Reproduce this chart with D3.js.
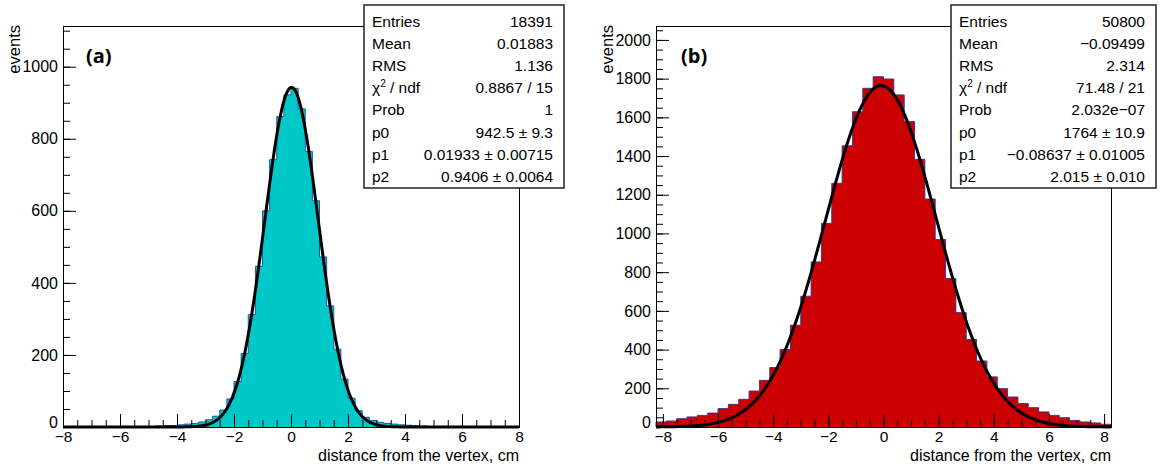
<!DOCTYPE html>
<html>
<head>
<meta charset="utf-8">
<script src="https://cdn.jsdelivr.net/npm/d3@7"></script>
<style>
  html, body { margin: 0; padding: 0; background: #fff; }
  svg text { font-family: "Liberation Sans", Arial, Helvetica, sans-serif; fill: #000; }
</style>
</head>
<body>
<svg id="chart" width="1160" height="464"></svg>
<script>
// ---------- Panel (a): narrow distribution ----------
const countsA = [
  0, 0, 0, 0, 0, 0, 0, 0, 0, 0, 0, 0, 0,
  3, 4, 4, 6, 8, 10, 14, 20, 30, 47, 78, 126, 204, 312, 446, 600, 742, 862, 922,
  940, 883, 765, 628, 472, 336, 216, 133, 80, 45, 27, 18, 13, 10, 8, 6, 5, 4, 3,
  0, 0, 0, 0, 0, 0, 0, 0, 0, 0, 0, 0, 0
];
const binStartA = -8;
const binWidthA = 0.25;
const xDomainA = [-8, 8];
const yDomainA = [0, 1113];
const xMajorA = [-8, -6, -4, -2, 0, 2, 4, 6, 8];
const yMajorA = [0, 200, 400, 600, 800, 1000];
const fitA = { p0: 942.5, p1: 0.01933, p2: 0.9406 };
const statNamesA = ["Entries", "Mean", "RMS", "chi2", "Prob", "p0", "p1", "p2"];
const statValuesA = ["18391", "0.01883", "1.136", "0.8867 / 15", "1",
  "942.5 \u00b1 9.3", "0.01933 \u00b1 0.00715", "0.9406 \u00b1 0.0064"];

// ---------- Panel (b): wide distribution ----------
const countsB = [
  26, 31, 43, 52, 60, 72, 95, 117, 143, 186, 241, 307, 400, 526, 676, 853,
  1052, 1259, 1453, 1629, 1750, 1810,
  1798, 1716, 1578, 1383, 1178, 969, 767, 591, 452, 341, 259, 198, 155, 121,
  100, 78, 60, 48, 34, 26, 21, 14
];
const binStartB = -8.25;
const binWidthB = 0.375;
const xDomainB = [-8.25, 8.25];
const yDomainB = [0, 2072];
const xMajorB = [-8, -6, -4, -2, 0, 2, 4, 6, 8];
const yMajorB = [0, 200, 400, 600, 800, 1000, 1200, 1400, 1600, 1800, 2000];
const fitB = { p0: 1764, p1: -0.08637, p2: 2.015 };
const statNamesB = ["Entries", "Mean", "RMS", "chi2", "Prob", "p0", "p1", "p2"];
const statValuesB = ["50800", "\u22120.09499", "2.314", "71.48 / 21", "2.032e\u221207",
  "1764 \u00b1 10.9", "\u22120.08637 \u00b1 0.01005", "2.015 \u00b1 0.010"];

const xTitle = "distance from the vertex, cm";
const yTitle = "events";

const svg = d3.select("#chart");
const labelFont = '"Liberation Sans", Arial, sans-serif';

function drawPanel(cfg) {
  const g = svg.append("g");
  const x = d3.scaleLinear().domain(cfg.xDomain).range([cfg.left, cfg.right]);
  const y = d3.scaleLinear().domain(cfg.yDomain).range([cfg.bottom, cfg.top]);

  // histogram bins as step points
  const pts = [];
  cfg.counts.forEach((c, i) => {
    const a = cfg.binStart + i * cfg.binWidth;
    pts.push([a, c], [a + cfg.binWidth, c]);
  });

  g.append("path")
    .datum(pts)
    .attr("d", d3.area().x(d => x(d[0])).y0(y(0)).y1(d => y(d[1])))
    .attr("fill", cfg.fill)
    .attr("stroke", "none");

  const outline = [[pts[0][0], 0], ...pts, [pts[pts.length - 1][0], 0]];
  g.append("path")
    .datum(outline)
    .attr("d", d3.line().x(d => x(d[0])).y(d => y(d[1])))
    .attr("fill", "none")
    .attr("stroke", cfg.lineColor)
    .attr("stroke-width", 1);

  // Minor ticks
  const xMinor = d3.range(cfg.xMajor[0], cfg.xMajor[cfg.xMajor.length - 1] + 0.001, 0.5);
  const yMinor = d3.range(0, cfg.yDomain[1], 50);

  g.append("g")
    .attr("transform", `translate(0,${cfg.bottom})`)
    .call(d3.axisBottom(x).tickValues(xMinor).tickSize(-7).tickSizeOuter(0).tickFormat(""))
    .call(s => s.select(".domain").remove());
  g.append("g")
    .attr("transform", `translate(${cfg.left},0)`)
    .call(d3.axisLeft(y).tickValues(yMinor).tickSize(-7).tickSizeOuter(0).tickFormat(""))
    .call(s => s.select(".domain").remove());

  // Major ticks and labels
  const xAx = g.append("g")
    .attr("transform", `translate(0,${cfg.bottom})`)
    .call(d3.axisBottom(x).tickValues(cfg.xMajor).tickSize(-13).tickSizeOuter(0)
      .tickPadding(4).tickFormat(d3.format("d")));
  xAx.select(".domain").remove();
  xAx.selectAll("text").attr("font-size", 15.5).attr("fill", "#000")
    .style("font-family", labelFont);

  const yAx = g.append("g")
    .attr("transform", `translate(${cfg.left},0)`)
    .call(d3.axisLeft(y).tickValues(cfg.yMajor).tickSize(-13).tickSizeOuter(0)
      .tickPadding(5).tickFormat(d3.format("d")));
  yAx.select(".domain").remove();
  yAx.selectAll("text").attr("font-size", 16).attr("fill", "#000")
    .style("font-family", labelFont);
  // keep the zero label clear of the first x label
  yAx.selectAll(".tick").filter(d => d === 0).select("text").attr("dy", "0em");

  g.selectAll(".tick line").attr("stroke", "#000").attr("stroke-width", 1);

  // Frame
  g.append("rect")
    .attr("x", cfg.left + 0.5).attr("y", cfg.top + 0.5)
    .attr("width", cfg.right - cfg.left).attr("height", cfg.bottom - cfg.top)
    .attr("fill", "none").attr("stroke", "#000").attr("stroke-width", 1);

  // Gaussian fit curve from the fitted parameters
  const fx = d3.range(cfg.xDomain[0], cfg.xDomain[1] + 1e-9, 0.02);
  const gauss = v => cfg.fit.p0 * Math.exp(-0.5 * Math.pow((v - cfg.fit.p1) / cfg.fit.p2, 2));
  g.append("path")
    .datum(fx)
    .attr("d", d3.line().x(v => x(v)).y(v => y(gauss(v))))
    .attr("fill", "none")
    .attr("stroke", "#000")
    .attr("stroke-width", 3)
    .attr("stroke-linejoin", "round");

  // Axis titles
  g.append("text")
    .attr("x", cfg.right).attr("y", 461)
    .attr("text-anchor", "end")
    .attr("font-size", 16)
    .text(xTitle);
  g.append("text")
    .attr("transform", `translate(${cfg.left - 43},${cfg.top - 1}) rotate(-90)`)
    .attr("text-anchor", "end")
    .attr("font-size", 16.5)
    .text(yTitle);

  // Panel tag
  g.append("text")
    .attr("x", cfg.tagX).attr("y", 63)
    .attr("font-size", 20)
    .attr("font-weight", "bold")
    .style("font-family", '"Open Sans", "Liberation Sans", sans-serif')
    .text(cfg.tag);

  // Statistics box
  const bx = cfg.box;
  g.append("rect")
    .attr("x", bx.x).attr("y", bx.y).attr("width", bx.w).attr("height", bx.h)
    .attr("fill", "#fff").attr("stroke", "#222").attr("stroke-width", 1.5);
  cfg.statNames.forEach((name, i) => {
    const by = 26.5 + i * 22.2;
    const t = g.append("text")
      .attr("x", bx.x + 8).attr("y", by)
      .attr("font-size", 15.5);
    if (name === "chi2") {
      t.append("tspan").text("\u03c7");
      t.append("tspan").attr("font-size", 10).attr("dy", -6).text("2");
      t.append("tspan").attr("dy", 6).text(" / ndf");
    } else {
      t.text(name);
    }
    g.append("text")
      .attr("x", bx.x + bx.w - 11).attr("y", by)
      .attr("text-anchor", "end")
      .attr("font-size", 15.5)
      .text(cfg.statValues[i]);
  });
}

drawPanel({
  counts: countsA, binStart: binStartA, binWidth: binWidthA,
  xDomain: xDomainA, yDomain: yDomainA, xMajor: xMajorA, yMajor: yMajorA,
  fit: fitA, statNames: statNamesA, statValues: statValuesA,
  left: 63, right: 519, top: 26, bottom: 427,
  fill: "#00c8c8", lineColor: "#2255aa",
  tag: "(a)", tagX: 86,
  box: { x: 364, y: 5, w: 200, h: 183 }
});

drawPanel({
  counts: countsB, binStart: binStartB, binWidth: binWidthB,
  xDomain: xDomainB, yDomain: yDomainB, xMajor: xMajorB, yMajor: yMajorB,
  fit: fitB, statNames: statNamesB, statValues: statValuesB,
  left: 656, right: 1111, top: 26, bottom: 427,
  fill: "#cc0000", lineColor: "#3a3a9a",
  tag: "(b)", tagX: 681,
  box: { x: 951, y: 5, w: 205, h: 183 }
});
</script>
</body>
</html>
